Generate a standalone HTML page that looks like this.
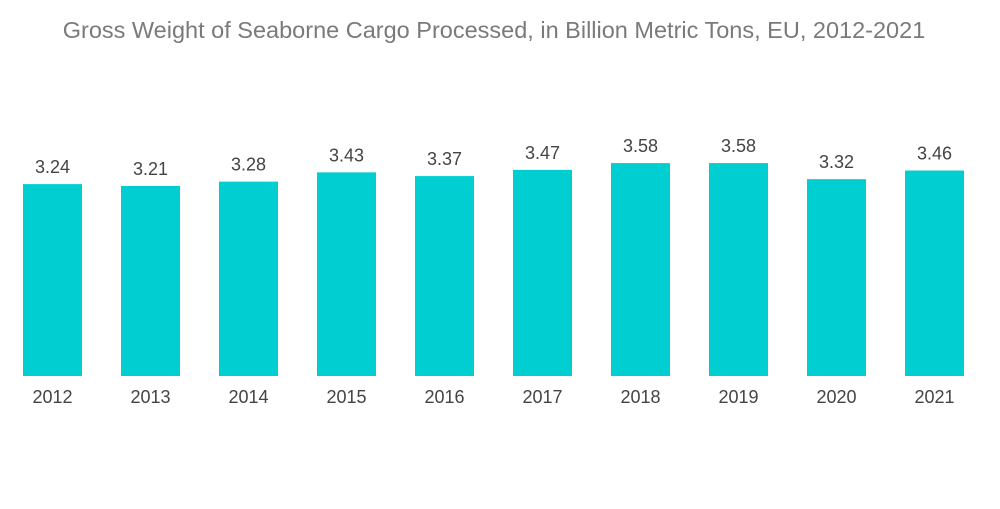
<!DOCTYPE html>
<html><head><meta charset="utf-8"><style>
body{margin:0;background:#fff;width:1000px;height:504px;overflow:hidden;font-family:"Liberation Sans",sans-serif}
</style></head><body>
<svg width="1000" height="504">
<text x="494" y="38" text-anchor="middle" font-size="23.5" fill="#7a7a7a">Gross Weight of Seaborne Cargo Processed, in Billion Metric Tons, EU, 2012-2021</text>
<g id="bars"></g>
</svg>
<script>
const categories=["2012","2013","2014","2015","2016","2017","2018","2019","2020","2021"];
const values=[3.24,3.21,3.28,3.43,3.37,3.47,3.58,3.58,3.32,3.46];
const labels=["3.24","3.21","3.28","3.43","3.37","3.47","3.58","3.58","3.32","3.46"];
const NS="http://www.w3.org/2000/svg";
const base=376;
function y(v){return base-(v-0.135)*61.8;}
function x(i){return 23+i*98;}
const g=document.getElementById('bars');
categories.forEach((c,i)=>{
  const r=document.createElementNS(NS,'rect');
  r.setAttribute('x',x(i));r.setAttribute('width',59);
  r.setAttribute('y',y(values[i]));r.setAttribute('height',base-y(values[i]));
  r.setAttribute('fill','#00ced1');
  
  
  g.appendChild(r);
  const t=document.createElementNS(NS,'text');
  t.setAttribute('x',x(i)+29.5);t.setAttribute('y',y(values[i])-11);
  t.setAttribute('text-anchor','middle');t.setAttribute('font-size','18');t.setAttribute('fill','#444');
  t.textContent=labels[i];
  
  
  g.appendChild(t);
  const a=document.createElementNS(NS,'text');
  a.setAttribute('x',x(i)+29.5);a.setAttribute('y',403);
  a.setAttribute('text-anchor','middle');a.setAttribute('font-size','18');a.setAttribute('fill','#444');
  a.textContent=c;
  
  
  g.appendChild(a);
});
</script>
</body></html>
